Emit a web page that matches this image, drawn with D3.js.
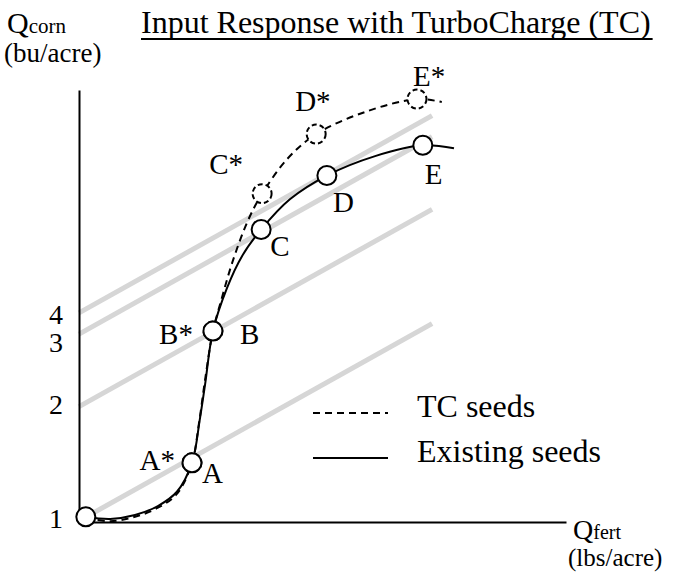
<!DOCTYPE html>
<html>
<head>
<meta charset="utf-8">
<script src="https://cdn.jsdelivr.net/npm/d3@7"></script>
<style>
  html, body { margin: 0; padding: 0; background: #fff; }
  svg { display: block; font-family: "Liberation Serif", "Times New Roman", serif; }
</style>
</head>
<body>
<script>
// ********************************** //
// ** Data (fert lbs/acre, corn bu/acre, arbitrary units)
// ********************************** //
const existingX = [1.4, 6.4, 11.5, 16.2, 20.1, 23.2, 24.8, 25.9, 27.5, 30.4, 33.5, 37.4, 43.3, 50.9, 60.8, 70.6, 77.0];
const existingY = [1.2, 0.7, 1.6, 3.7, 7.0, 13.7, 23.7, 31.9, 44.2, 54.2, 61.6, 67.7, 74.7, 80.2, 84.7, 87.2, 86.5];

const tcX = [1.4, 6.4, 11.5, 16.2, 20.1, 23.2, 24.6, 25.9, 27.5, 29.0, 31.6, 34.7, 37.6, 42.9, 48.7, 58.7, 69.4, 74.5];
const tcY = [0.9, 0.2, 1.2, 3.3, 6.5, 13.7, 22.6, 33.0, 44.2, 50.5, 60.5, 69.8, 76.0, 84.2, 89.8, 94.9, 97.9, 97.2];

const existingPtLabels = ["", "A", "B", "C", "D", "E"];
const existingPtX = [1.4, 23.2, 27.5, 37.4, 50.9, 70.6];
const existingPtY = [1.2, 13.7, 44.2, 67.7, 80.2, 87.2];

const tcPtLabels = ["A*", "B*", "C*", "D*", "E*"];
const tcPtX = [23.2, 27.5, 37.6, 48.7, 69.4];
const tcPtY = [13.7, 44.2, 76.0, 89.8, 97.9];

// iso-profit lines: intercept on the corn axis, common slope
const isoIntercepts = [0.25, 26.7, 43.5, 48.4];
const isoStartX = [1.4, 0, 0, 0];
const isoEndX = 72.5;
const isoSlope = 0.63;

const yTickValues = [0.9, 27.2, 41.6, 48.1];
const yTickLabels = ["1", "2", "3", "4"];

const legendLabels = ["TC seeds", "Existing seeds"];

// label placement around each circle: [dx, dy, anchor]
const labelOffsets = {
  "A": [10, 20, "start"], "A*": [-17, 7, "end"],
  "B": [27, 13, "start"], "B*": [-20, 13, "end"],
  "C": [9, 26, "start"], "C*": [-19, -20, "end"],
  "D": [6, 36, "start"], "D*": [-21, -23, "start"],
  "E": [2, 39, "start"], "E*": [-4, -13, "start"]
};

const onReady = () => {
  const width = 676;
  const height = 573;

  const svg = d3.select("body")
    .append("svg")
    .attr("width", width)
    .attr("height", height);

  const x = d3.scaleLinear().domain([0, 100]).range([79, 566]);
  const y = d3.scaleLinear().domain([0, 100]).range([522, 90]);

  // ********************************** //
  // ** Iso lines (grey)
  // ********************************** //
  svg.append("g")
    .attr("class", "iso")
    .selectAll("line")
    .data(isoIntercepts)
    .join("line")
    .attr("x1", (d, i) => x(isoStartX[i]))
    .attr("y1", (d, i) => y(d + isoSlope * isoStartX[i]))
    .attr("x2", x(isoEndX))
    .attr("y2", d => y(d + isoSlope * isoEndX))
    .attr("stroke", "#d6d6d6")
    .attr("stroke-width", 5);

  // ********************************** //
  // ** Axes
  // ********************************** //
  const yAxis = svg.append("g")
    .attr("transform", `translate(${x(0)},0)`)
    .call(d3.axisLeft(y)
      .tickValues(yTickValues)
      .tickFormat((d, i) => yTickLabels[i])
      .tickSize(0)
      .tickSizeOuter(0)
      .tickPadding(16));

  const xAxis = svg.append("g")
    .attr("transform", `translate(0,${y(0)})`)
    .call(d3.axisBottom(x).tickValues([]).tickSizeOuter(0));

  [yAxis, xAxis].forEach(a => {
    a.select(".domain").attr("stroke", "#000").attr("stroke-width", 2);
  });
  yAxis.selectAll("text")
    .attr("font-family", "Liberation Serif")
    .attr("font-size", 28)
    .attr("fill", "#000");

  // ********************************** //
  // ** Curves
  // ********************************** //
  const line = d3.line()
    .x(d => x(d[0]))
    .y(d => y(d[1]))
    .curve(d3.curveCatmullRom.alpha(0.5));

  svg.append("path")
    .datum(tcX.map((v, i) => [v, tcY[i]]))
    .attr("d", line)
    .attr("fill", "none")
    .attr("stroke", "#000")
    .attr("stroke-width", 2)
    .attr("stroke-dasharray", "7,5");

  svg.append("path")
    .datum(existingX.map((v, i) => [v, existingY[i]]))
    .attr("d", line)
    .attr("fill", "none")
    .attr("stroke", "#000")
    .attr("stroke-width", 2);

  // ********************************** //
  // ** Points + labels
  // ********************************** //
  const tcPts = tcPtLabels.map((l, i) => ({ label: l, x: tcPtX[i], y: tcPtY[i] }));
  const exPts = existingPtLabels.map((l, i) => ({ label: l, x: existingPtX[i], y: existingPtY[i] }));

  svg.append("g")
    .selectAll("circle")
    .data(tcPts)
    .join("circle")
    .attr("cx", d => x(d.x))
    .attr("cy", d => y(d.y))
    .attr("r", 9.5)
    .attr("fill", "#fff")
    .attr("stroke", "#000")
    .attr("stroke-width", 2)
    .attr("stroke-dasharray", "5,3");

  svg.append("g")
    .selectAll("circle")
    .data(exPts)
    .join("circle")
    .attr("cx", d => x(d.x))
    .attr("cy", d => y(d.y))
    .attr("r", 9.5)
    .attr("fill", "#fff")
    .attr("stroke", "#000")
    .attr("stroke-width", 2);

  svg.append("g")
    .selectAll("text")
    .data(exPts.concat(tcPts).filter(d => d.label))
    .join("text")
    .attr("x", d => x(d.x) + labelOffsets[d.label][0])
    .attr("y", d => y(d.y) + labelOffsets[d.label][1])
    .attr("text-anchor", d => labelOffsets[d.label][2])
    .attr("font-size", 29)
    .text(d => d.label);

  // ********************************** //
  // ** Legend
  // ********************************** //
  const legend = svg.append("g").selectAll("g")
    .data(legendLabels)
    .join("g")
    .attr("transform", (d, i) => `translate(313,${413 + i * 45})`);

  legend.append("line")
    .attr("x2", 75)
    .attr("stroke", "#000")
    .attr("stroke-width", 2)
    .attr("stroke-dasharray", (d, i) => i === 0 ? "7,5" : null);

  legend.append("text")
    .attr("x", 104)
    .attr("y", 4)
    .attr("font-size", 32)
    .text(d => d);

  // ********************************** //
  // ** Titles
  // ********************************** //
  const title = svg.append("text")
    .attr("x", 141)
    .attr("y", 33)
    .attr("font-size", 32)
    .text("Input Response with TurboCharge (TC)");
  const tb = title.node().getBBox();
  svg.append("line")
    .attr("x1", tb.x)
    .attr("x2", tb.x + tb.width + 2)
    .attr("y1", 39)
    .attr("y2", 39)
    .attr("stroke", "#000")
    .attr("stroke-width", 2);

  const yLab = svg.append("text").attr("x", 7).attr("y", 33).attr("font-size", 30);
  yLab.append("tspan").text("Q");
  yLab.append("tspan").attr("font-size", 21).text("corn");
  svg.append("text").attr("x", 4).attr("y", 62).attr("font-size", 27).text("(bu/acre)");

  const xLab = svg.append("text").attr("x", 573).attr("y", 539).attr("font-size", 28);
  xLab.append("tspan").text("Q");
  xLab.append("tspan").attr("font-size", 20).text("fert");
  svg.append("text").attr("x", 568).attr("y", 566).attr("font-size", 25).text("(lbs/acre)");
};
document.addEventListener("DOMContentLoaded", onReady);
</script>
</body>
</html>
